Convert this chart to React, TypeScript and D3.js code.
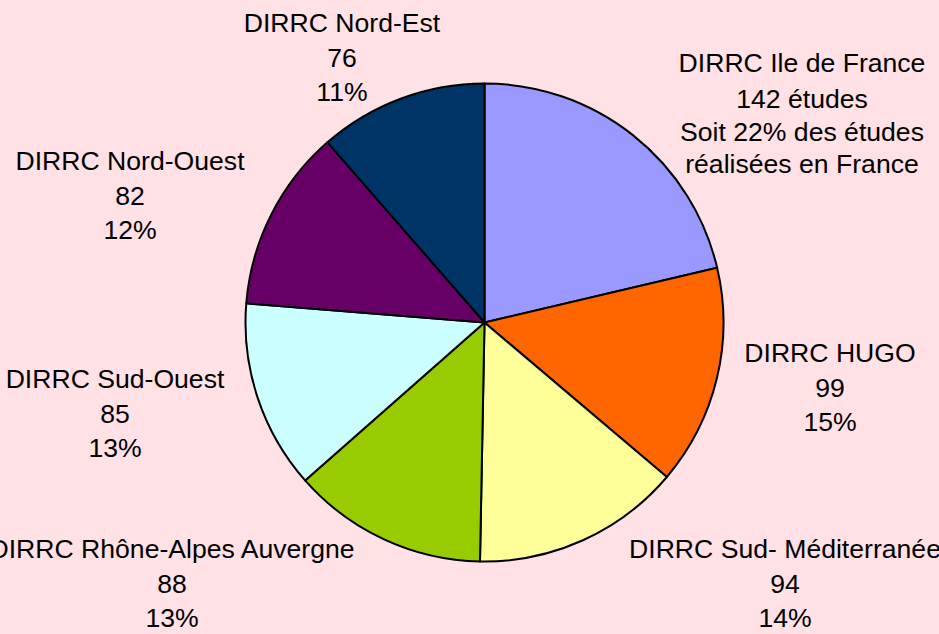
import React from "react";
import * as d3 from "d3";

const regions = [
  "DIRRC Ile de France",
  "DIRRC HUGO",
  "DIRRC Sud- Méditerranée",
  "DIRRC Rhône-Alpes Auvergne",
  "DIRRC Sud-Ouest",
  "DIRRC Nord-Ouest",
  "DIRRC Nord-Est",
];
const studies = [142, 99, 94, 88, 85, 82, 76];
const percents = ["22%", "15%", "14%", "13%", "13%", "12%", "11%"];
const colors = ["#9999FF", "#FF6600", "#FFFF99", "#99CC00", "#CCFFFF", "#660066", "#003366"];

// label anchor positions (center x, first baseline y)
const labelLayout = [
  { x: 802, y: 72 },
  { x: 830, y: 362 },
  { x: 785, y: 558 },
  { x: 172, y: 558 },
  { x: 115, y: 388 },
  { x: 130, y: 170 },
  { x: 342, y: 32 },
];

const W = 939;
const H = 634;
const cx = 484.5;
const cy = 322.5;
const R = 239;

export default function App() {
  const pie = d3.pie<number>().sort(null).value((d) => d)(studies);
  const arc = d3.arc<d3.PieArcDatum<number>>().innerRadius(0).outerRadius(R);
  const fs = 26.6;
  const lh = 34.5;
  return (
    <svg
      width={W}
      height={H}
      style={{ position: "absolute", left: 0, top: 0 }}
      fontFamily="'Liberation Sans', Arial, sans-serif"
    >
      <rect x={0} y={0} width={W} height={H} fill="#FFE1E6" />
      <g transform={`translate(${cx},${cy})`}>
        {pie.map((p, i) => (
          <path key={i} d={arc(p) || ""} fill={colors[i]} stroke="#000" strokeWidth={2} strokeLinejoin="round" />
        ))}
      </g>
      {regions.map((name, i) => {
        const L = labelLayout[i];
        const lines =
          i === 0
            ? [name, `${studies[i]} études`, `Soit ${percents[i]} des études`, "réalisées en France"]
            : [name, String(studies[i]), percents[i]];
        return (
          <text key={i} textAnchor="middle" fontSize={fs} fill="#000">
            {lines.map((t, j) => (
              <tspan key={j} x={L.x} y={L.y + (i === 0 ? (j === 0 ? 0 : 36 + (j - 1) * 32.5) : j * lh)}>
                {t}
              </tspan>
            ))}
          </text>
        );
      })}
    </svg>
  );
}
